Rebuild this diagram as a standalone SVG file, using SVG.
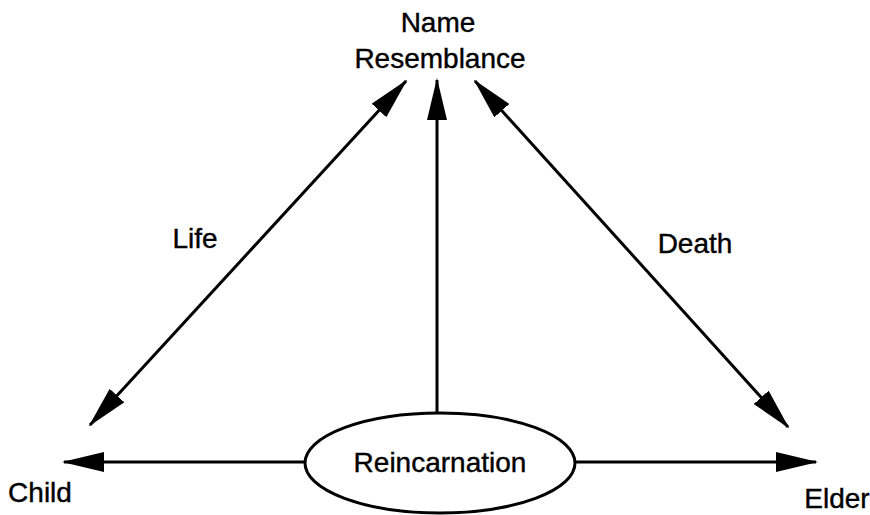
<svg xmlns="http://www.w3.org/2000/svg" width="870" height="515" viewBox="0 0 870 515">
<style>
text{font-family:"Liberation Sans",Arial,sans-serif;font-size:28px;fill:#000;stroke:#000;stroke-width:0.4;text-anchor:middle}
.c{stroke:#000;stroke-width:3;fill:none}
</style>
<defs>
<marker id="ah" viewBox="0 0 42 20" markerWidth="42" markerHeight="20" refX="40" refY="10" orient="auto-start-reverse" markerUnits="userSpaceOnUse">
<path d="M0,0 L42,10 L0,20 z" fill="#000"/>
</marker>
</defs>
<rect width="870" height="515" fill="#fff"/>
<g id="connectors">
<line class="c" x1="90" y1="425" x2="406" y2="81" marker-start="url(#ah)" marker-end="url(#ah)"/>
<line class="c" x1="475" y1="81" x2="788" y2="427" marker-start="url(#ah)" marker-end="url(#ah)"/>
<line class="c" x1="437" y1="413" x2="437" y2="80" marker-end="url(#ah)"/>
<line class="c" x1="305" y1="462" x2="64" y2="462" marker-end="url(#ah)"/>
<line class="c" x1="575" y1="462" x2="816" y2="462" marker-end="url(#ah)"/>
<text x="195" y="248">Life</text>
<text x="695" y="253">Death</text>
</g>
<g id="name-resemblance">
<text x="438" y="32">Name</text>
<text x="440" y="68">Resemblance</text>
</g>
<g id="reincarnation">
<ellipse cx="440" cy="463" rx="135" ry="50" class="c"/>
<text x="440" y="472">Reincarnation</text>
</g>
<g id="child">
<text x="40" y="502">Child</text>
</g>
<g id="elder">
<text x="837" y="508">Elder</text>
</g>
</svg>
